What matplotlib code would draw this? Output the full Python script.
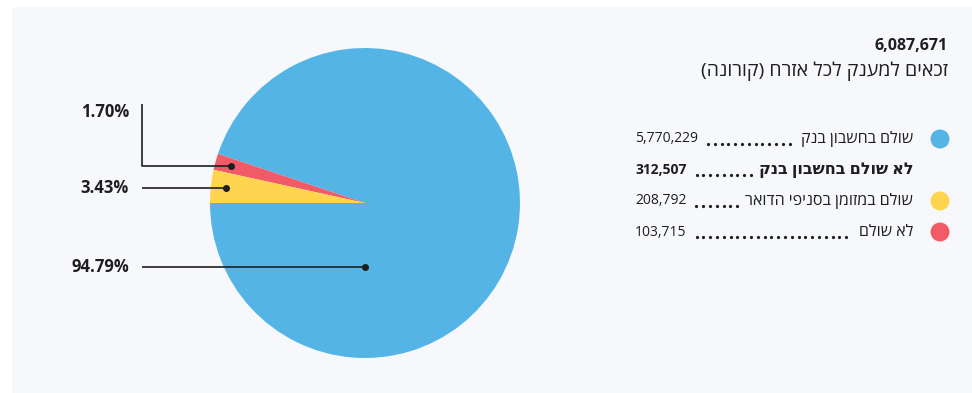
import numpy as np
import matplotlib
matplotlib.use("Agg")
import matplotlib.pyplot as plt
from matplotlib.patches import Rectangle, Circle

plt.rcParams['font.family'] = ['Open Sans', 'DejaVu Sans']

# --- data ---------------------------------------------------------------
total_label = "זכאים למענק לכל אזרח (קורונה)"
total_value = 6087671
categories = ["שולם בחשבון בנק", "לא שולם", "שולם במזומן בסניפי הדואר"]
values = [5770229, 103715, 208792]
colors = ["#55b4e6", "#f15b67", "#ffd550"]
unpaid_bank_label = "לא שולם בחשבון בנק"
unpaid_bank_value = 312507

BG = "#f7f8fc"
TXT = "#1e1e1e"


def visual(s):
    """Right-to-left text laid out for a left-to-right renderer."""
    mirror = {"(": ")", ")": "("}
    return "".join(mirror.get(c, c) for c in reversed(s))


W, H = 972, 393
fig = plt.figure(figsize=(W / 100, H / 100), dpi=100)
fig.patch.set_facecolor("white")
ax = fig.add_axes([0, 0, 1, 1])
ax.set_xlim(0, W)
ax.set_ylim(0, H)
ax.axis("off")


def Y(py):
    return H - py


ax.add_patch(Rectangle((12, 0), W - 12, Y(7), facecolor=BG, edgecolor="none", zorder=0))

# --- pie ----------------------------------------------------------------
cx, cy, R = 365, Y(203), 155
wedges, _ = ax.pie(values, colors=colors, startangle=180, counterclock=True,
                   radius=R, center=(cx, cy), frame=False,
                   wedgeprops=dict(linewidth=0))
ax.set_xlim(0, W)
ax.set_ylim(0, H)
ax.set_aspect("auto")

fr = np.array(values, dtype=float) / sum(values)
pct = [v / total_value * 100 for v in values]
starts = 180 + 360 * np.concatenate([[0], np.cumsum(fr)[:-1]])
mids = starts + 360 * fr / 2


def dot(x, y):
    ax.plot([x], [y], "o", color=TXT, ms=4, zorder=5)


line_kw = dict(color=TXT, lw=1.2, zorder=4, solid_capstyle="butt")
label_kw = dict(fontsize=12, fontweight="bold", color=TXT, ha="right", va="center")
xline = 142

# blue
bx, by = cx, cy - 0.41 * R
dot(bx, by)
ax.plot([xline, bx], [by, by], **line_kw)
ax.text(129, by, f"{pct[0]:.2f}%", **label_kw)

# red (thin slice, elbow leader)
a = np.deg2rad(mids[1])
rx, ry = cx + 0.9 * R * np.cos(a), cy + 0.9 * R * np.sin(a)
dot(rx, ry)
ax.plot([rx, xline, xline], [ry, ry, Y(104)], **line_kw)
ax.text(129, Y(112), f"{pct[1]:.2f}%", **label_kw)

# yellow
a = np.deg2rad(mids[2])
yx, yy = cx + 0.9 * R * np.cos(a), cy + 0.9 * R * np.sin(a)
dot(yx, yy)
ax.plot([xline, yx], [yy, yy], **line_kw)
ax.text(129, yy, f"{pct[2]:.2f}%", **label_kw)

# --- header -------------------------------------------------------------
ax.text(948, Y(46), f"{total_value:,}", fontsize=11.5, fontweight="bold",
        color=TXT, ha="right", va="center")
ax.text(948, Y(71), visual(total_label), fontsize=14, color=TXT,
        ha="right", va="center")

# --- legend -------------------------------------------------------------
fig.canvas.draw()
renderer = fig.canvas.get_renderer()
inv = ax.transData.inverted()

rows = [
    (categories[0], values[0], colors[0], "normal", 139),
    (unpaid_bank_label, unpaid_bank_value, None, "bold", 170),
    (categories[2], values[2], colors[2], "normal", 201),
    (categories[1], values[1], colors[1], "normal", 232),
]
for name, val, col, wt, py in rows:
    y = Y(py)
    if col is not None:
        ax.add_patch(Circle((940, y), 9.5, facecolor=col, edgecolor="none", zorder=3))
    t1 = ax.text(913, y, visual(name), fontsize=11.5, fontweight=wt, color=TXT,
                 ha="right", va="center")
    t2 = ax.text(635, y, f"{val:,}", fontsize=10, fontweight=wt, color=TXT,
                 ha="left", va="center")
    b1 = t1.get_window_extent(renderer)
    b2 = t2.get_window_extent(renderer)
    x_end = inv.transform((b1.x0, 0))[0] - 6
    x_start = inv.transform((b2.x1, 0))[0] + 10
    n = int((x_end - x_start) // 6.8)
    xs = x_start + 6.8 * np.arange(n + 1)
    ax.plot(xs, np.full_like(xs, y - 5), "o", color=TXT, ms=1.3, zorder=3)

fig.savefig("out.png", dpi=100, facecolor=fig.get_facecolor())
